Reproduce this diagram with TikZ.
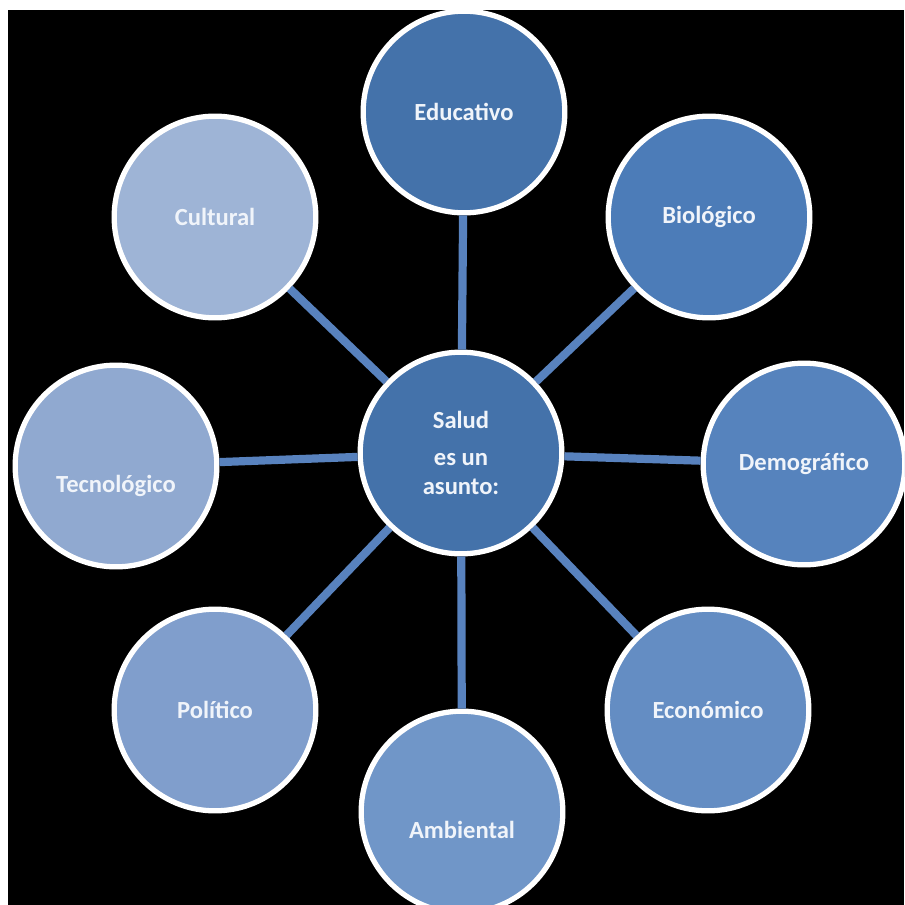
\documentclass[tikz,border=0pt]{standalone}
\usepackage{fontspec}
\setmainfont{Carlito}
\usepackage{tikz}
\usetikzlibrary{arrows,shapes}
\definecolor{cSalud}{RGB}{68,114,170}
\definecolor{cEdu}{RGB}{68,114,170}
\definecolor{cBio}{RGB}{76,124,184}
\definecolor{cDem}{RGB}{86,131,189}
\definecolor{cEco}{RGB}{100,141,195}
\definecolor{cAmb}{RGB}{112,150,200}
\definecolor{cPol}{RGB}{128,158,204}
\definecolor{cTec}{RGB}{144,169,208}
\definecolor{cCul}{RGB}{158,180,214}
\definecolor{linkblue}{RGB}{88,130,190}
\definecolor{txt}{RGB}{240,244,250}
\tikzstyle{bubble} = [draw=white, circle, line width=4.5pt, minimum size=6.05cm,
    inner sep=0pt, text=txt, align=center, font=\bfseries\fontsize{21}{25}\selectfont]
\tikzstyle{link} = [line width=7pt, color=linkblue]

\begin{document}
\begin{tikzpicture}[x=0.03cm, y=-0.03cm]
  \useasboundingbox (0,0) rectangle (904,905);
  \fill[white] (0,0) rectangle (904,905);
  \fill[black] (8,10) rectangle (904,905);
  \clip (8,10) rectangle (904,905);
  % Place nodes
  \node [bubble, fill=cSalud, font=\bfseries\fontsize{21}{25}\selectfont] (salud) at (461,453)
  {\textbf{Salud}\\[6pt]\textbf{es un}\\\textbf{asunto:}};
  \node [bubble, fill=cEdu] (edu) at (464,112) {Educativo};
  \node [bubble, fill=cBio] (bio) at (709,217) {Biológico};
  \node [bubble, fill=cDem] (dem) at (804,464) {Demográfico};
  \node [bubble, fill=cEco] (eco) at (708,710) {Económico};
  \node [bubble, fill=cAmb] (amb) at (462,812) {\raisebox{-0.78cm}[0pt][0pt]{Ambiental}};
  \node [bubble, fill=cPol] (pol) at (215,710) {Político};
  \node [bubble, fill=cTec] (tec) at (116,466) {\raisebox{-0.78cm}[0pt][0pt]{Tecnológico}};
  \node [bubble, fill=cCul] (cul) at (215,217) {Cultural};
  % Connect them
  \draw [link] (salud) -- (edu);
  \draw [link] (salud) -- (bio);
  \draw [link] (salud) -- (dem);
  \draw [link] (salud) -- (eco);
  \draw [link] (salud) -- (amb);
  \draw [link] (salud) -- (pol);
  \draw [link] (salud) -- (tec);
  \draw [link] (salud) -- (cul);
\end{tikzpicture}
\end{document}
